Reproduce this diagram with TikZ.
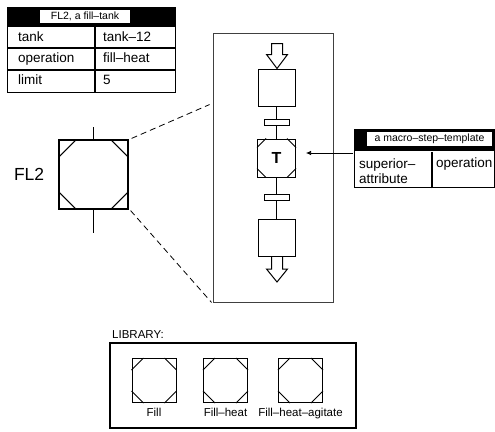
\documentclass[tikz,border=0pt]{standalone}
\usepackage{fontspec}
\setmainfont{Liberation Sans}
\usetikzlibrary{positioning,calc,arrows.meta}

\tikzset{
  tbl/.style={draw, line width=1.3pt, inner sep=0pt, anchor=north west},
  title/.style={fill=white, inner sep=0pt, font=\fontsize{10.5}{12}\selectfont},
  cell/.style={anchor=west, inner sep=0pt, align=left, text height=9.5pt, text depth=2.5pt,
    font=\fontsize{13.5}{15.5}\selectfont},
  vessel/.style={draw, line width=1.2pt, minimum size=#1, inner sep=0pt},
  stepbox/.style={draw, line width=1pt, minimum size=37pt, inner sep=0pt},
  barbox/.style={draw, line width=1pt, minimum width=25pt, minimum height=6pt, inner sep=0pt},
  zoomline/.style={dash pattern=on 6pt off 4pt, line width=0.8pt},
  libtext/.style={inner sep=0pt, font=\fontsize{11.5}{13}\selectfont}
}

\newcommand{\cutcorners}[2]{%
  \draw[line width=1pt] ($(#1.north west)+(#2,0)$) -- ($(#1.north west)+(0,#2)$);
  \draw[line width=1pt] ($(#1.north east)+(-#2,0)$) -- ($(#1.north east)+(0,#2)$);
  \draw[line width=1pt] ($(#1.south west)+(#2,0)$) -- ($(#1.south west)+(0,-#2)$);
  \draw[line width=1pt] ($(#1.south east)+(-#2,0)$) -- ($(#1.south east)+(0,-#2)$);
}

\begin{document}
\begin{tikzpicture}[x=1pt,y=-1pt]
\useasboundingbox (0,0) rectangle (495,431);

% instance card
\node[tbl, minimum width=168pt, minimum height=85pt] (card) at (7,7) {};
\fill (card.north west) rectangle ($(card.north east)+(0,20)$);
\node[title, minimum width=90pt, minimum height=13pt] (cardtitle) at (85,16.5) {FL2, a fill--tank};
\draw[line width=1.3pt] ($(card.north west)+(0,41)$) -- ($(card.north east)+(0,41)$);
\draw[line width=1.3pt] ($(card.north west)+(0,63)$) -- ($(card.north east)+(0,63)$);
\draw[line width=1.3pt] ($(card.north west)+(88,20)$) -- ($(card.south west)+(88,0)$);
\node[cell] (k1) at (18,37.5) {tank};
\node[cell] (v1) at (103,37.5) {tank--12};
\node[cell] (k2) at (18,59) {operation};
\node[cell] (v2) at (103,59) {fill--heat};
\node[cell] (k3) at (18,81) {limit};
\node[cell] (v3) at (103,81) {5};

% the unit
\node[vessel=69pt] (fl2) at (93.5,174.5) {};
\cutcorners{fl2}{18}
\draw[line width=1pt] (fl2.north) -- ++(0,-12);
\draw[line width=1pt] (fl2.south) -- ++(0,23);
\node[inner sep=0pt, font=\fontsize{17.5}{20}\selectfont, left=14pt of fl2] (fl2name) {FL2};

% detail
\node[draw=black!75, line width=0.9pt, minimum width=120pt, minimum height=269pt, inner sep=0pt] (detail) at (273,167.5) {};
\draw[zoomline] ($(fl2.north east)+(3,-1)$) -- ($(detail.north west)+(-3,72)$);
\draw[zoomline] ($(fl2.south east)+(2,1)$) -- ($(detail.south west)+(-1,0)$);

\node[stepbox] (box1) at (276.5,87.5) {};
\node[barbox] (bar1) at (276.5,122) {};
\node[stepbox, minimum size=38pt, font=\fontsize{16}{18}\selectfont\bfseries] (T) at (276.5,158) {T};
\cutcorners{T}{9}
\node[barbox] (bar2) at (276.5,197.5) {};
\node[stepbox] (box3) at (276.5,238) {};
\draw[line width=1pt] (box1) -- (bar1) -- (T) -- (bar2) -- (box3);
\draw[line width=1pt, fill=white] ($(box1.north)+(0.5,0)$) -- ++(-10.5,-14) -- ++(5,0) -- ++(0,-11)
  -- ++(11,0) -- ++(0,11) -- ++(5,0) -- cycle;
\draw[line width=1pt] ($(box3.south)+(-5,0)$) -- ++(0,12) -- ++(-5,0) -- ++(10.5,13)
  -- ++(10.5,-13) -- ++(-5,0) -- ++(0,-12);

% template
\node[tbl, minimum width=140pt, minimum height=58pt] (tpl) at (354,129) {};
\fill (tpl.north west) rectangle ($(tpl.north east)+(0,22)$);
\node[title, minimum width=125pt, minimum height=14pt] (tpltitle) at (429.5,139) {a macro--step--template};
\draw[line width=1.3pt] ($(tpl.south west)+(78,0)$) -- ++(0,-36);
\node[cell, text height=, text depth=] (attr) at (359,171) {superior--\\attribute};
\node[cell] (op) at (436,164) {operation};
\coordinate (tin) at ($(tpl.north west)+(-1,24)$);
\draw[line width=0.7pt, -{Latex[length=5pt,width=4.5pt]}, shorten >=10pt] (tin) -- (T.east |- tin);

% library
\node[libtext, anchor=west] (libname) at (112,335) {LIBRARY:};
\node[draw, line width=1.3pt, minimum width=246pt, minimum height=85pt, inner sep=0pt] (lib) at (233,385.5) {};
\node[vessel=44pt, line width=1pt] (f1) at (154,380.5) {};
\cutcorners{f1}{12}
\node[vessel=44pt, line width=1pt] (f2) at (225.5,380.5) {};
\cutcorners{f2}{12}
\node[vessel=44pt, line width=1pt] (f3) at (300.5,380.5) {};
\cutcorners{f3}{12}
\node[libtext, below=5pt of f1] (n1) {Fill};
\node[libtext, below=5pt of f2] (n2) {Fill--heat};
\node[libtext, below=5pt of f3] (n3) {Fill--heat--agitate};
\end{tikzpicture}
\end{document}
